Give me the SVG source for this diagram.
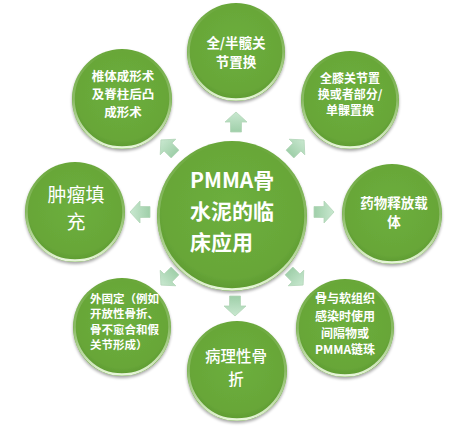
<svg xmlns="http://www.w3.org/2000/svg" width="460" height="436" viewBox="0 0 460 436">
<defs>
<radialGradient id="gFill" cx="50%" cy="45%" r="55%">
<stop offset="0" stop-color="#6daf3d"/>
<stop offset="0.85" stop-color="#67a638"/>
<stop offset="1" stop-color="#5d9830"/>
</radialGradient>
<linearGradient id="gRim" x1="0" y1="0" x2="0" y2="1">
<stop offset="0" stop-color="#ffffff" stop-opacity="0"/>
<stop offset="0.5" stop-color="#e4f5d4" stop-opacity="0.3"/>
<stop offset="1" stop-color="#eefbe2" stop-opacity="0.95"/>
</linearGradient>
<linearGradient id="gArrow" x1="0" y1="0" x2="0" y2="1">
<stop offset="0" stop-color="#c9e8d0"/>
<stop offset="1" stop-color="#9fcfa9"/>
</linearGradient>
<filter id="sh" x="-20%" y="-20%" width="140%" height="140%">
<feGaussianBlur in="SourceAlpha" stdDeviation="1.5"/>
<feOffset dx="0" dy="1.5" result="b"/>
<feComponentTransfer><feFuncA type="linear" slope="0.35"/></feComponentTransfer>
<feMerge><feMergeNode/><feMergeNode in="SourceGraphic"/></feMerge>
</filter>
<path id="arr" d="M0,-10 L11,0 L5.5,0 L5.5,10 L-5.5,10 L-5.5,0 L-11,0 Z"/>
</defs>
<style>
.c{fill:url(#gFill);filter:url(#sh);}
.r{fill:none;stroke:url(#gRim);stroke-width:2.5;}
.t{font-family:"Noto Sans CJK SC","Liberation Sans",sans-serif;fill:#ffffff;font-weight:700;text-anchor:middle;}
.a{fill:url(#gArrow);stroke:#b2d6b8;stroke-width:0.8;}
</style>
<rect width="460" height="436" fill="#ffffff"/>
<g id="connectors">
<use href="#arr" class="a" transform="translate(236,122)"/>
<use href="#arr" class="a" transform="translate(297,147) rotate(45)"/>
<use href="#arr" class="a" transform="translate(324,212) rotate(90)"/>
<use href="#arr" class="a" transform="translate(296,278) rotate(135)"/>
<use href="#arr" class="a" transform="translate(235,306) rotate(180)"/>
<use href="#arr" class="a" transform="translate(168,278) rotate(225)"/>
<use href="#arr" class="a" transform="translate(140,212) rotate(270)"/>
<use href="#arr" class="a" transform="translate(168,147) rotate(315)"/>
</g>
<g id="center">
<circle class="c" cx="232" cy="216" r="75"/>
<circle class="r" cx="232" cy="216" r="73.5"/>
<text class="t" style="text-anchor:start" x="190" font-size="21"><tspan x="190" y="188">PMMA骨</tspan><tspan x="190" y="219">水泥的临</tspan><tspan x="190" y="250">床应用</tspan></text>
</g>
<g id="n-top">
<circle class="c" cx="236" cy="52" r="49"/>
<circle class="r" cx="236" cy="52" r="47.5"/>
<text class="t" font-size="13.5"><tspan x="236" y="48">全/半髋关</tspan><tspan x="236" y="67">节置换</tspan></text>
</g>
<g id="n-topright">
<circle class="c" cx="350" cy="100" r="49"/>
<circle class="r" cx="350" cy="100" r="47.5"/>
<text class="t" font-size="12"><tspan x="350" y="83">全膝关节置</tspan><tspan x="350" y="99">换或者部分/</tspan><tspan x="350" y="115">单髁置换</tspan></text>
</g>
<g id="n-right">
<circle class="c" cx="392" cy="214" r="50"/>
<circle class="r" cx="392" cy="214" r="48.5"/>
<text class="t" font-size="13.5"><tspan x="394" y="208">药物释放载</tspan><tspan x="394" y="227">体</tspan></text>
</g>
<g id="n-bottomright">
<circle class="c" cx="345" cy="328" r="49"/>
<circle class="r" cx="345" cy="328" r="47.5"/>
<text class="t" font-size="12"><tspan x="345" y="303">骨与软组织</tspan><tspan x="345" y="321">感染时使用</tspan><tspan x="345" y="338">间隔物或</tspan><tspan x="345" y="354">PMMA链珠</tspan></text>
</g>
<g id="n-bottom">
<circle class="c" cx="237" cy="371" r="50"/>
<circle class="r" cx="237" cy="371" r="48.5"/>
<text class="t" font-size="15.5" style="font-weight:500"><tspan x="236" y="362">病理性骨</tspan><tspan x="236" y="385">折</tspan></text>
</g>
<g id="n-bottomleft">
<circle class="c" cx="122" cy="327" r="49"/>
<circle class="r" cx="122" cy="327" r="47.5"/>
<text class="t" font-size="11.5" style="text-anchor:start"><tspan x="90" y="303">外固定（例如</tspan><tspan x="90" y="318">开放性骨折、</tspan><tspan x="90" y="334">骨不愈合和假</tspan><tspan x="90" y="349">关节形成）</tspan></text>
</g>
<g id="n-left">
<circle class="c" cx="75" cy="212" r="50"/>
<circle class="r" cx="75" cy="212" r="48.5"/>
<text class="t" font-size="19" style="font-weight:400"><tspan x="76" y="202">肿瘤填</tspan><tspan x="76" y="229">充</tspan></text>
</g>
<g id="n-topleft">
<circle class="c" cx="122" cy="99" r="50"/>
<circle class="r" cx="122" cy="99" r="48.5"/>
<text class="t" font-size="12.5"><tspan x="123" y="81">椎体成形术</tspan><tspan x="123" y="99">及脊柱后凸</tspan><tspan x="123" y="117">成形术</tspan></text>
</g>
</svg>
